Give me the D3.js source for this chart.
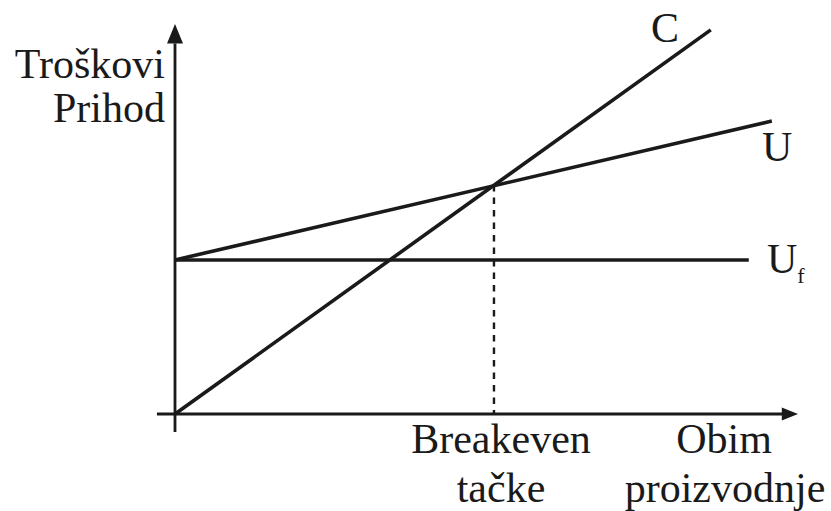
<!DOCTYPE html>
<html>
<head>
<meta charset="utf-8">
<script src="https://cdn.jsdelivr.net/npm/d3@7"></script>
</head>
<body style="margin:0; background:#fff">
<div id="chart"></div>
<script>
// data (in chart units, volume 0..100, money 0..100)
const costX = [0, 86.0];          // C - ukupni troskovi
const costY = [0, 98.5];
const revX = [0, 95.8];           // U - prihod
const revY = [39.5, 75.1];
const fixX = [0, 92.1];           // Uf - fiksni
const fixY = [39.5, 39.5];
const breakeven = [51.2, 58.7];
const yLabel = ['Troškovi', 'Prihod'];
const xLabel = ['Obim', 'proizvodnje'];
const beLabel = ['Breakeven', 'tačke'];

var width = 831, height = 511;
const ink = '#1a1a1a';

var svg = d3.select('#chart')
  .append('svg')
    .attr('width', width)
    .attr('height', height);

// scales
let x = d3.scaleLinear()
  .domain([0, 100])
  .range([175, 798]);

let y = d3.scaleLinear()
  .domain([0, 100])
  .range([414, 24]);

var lineGenerator = d3.line();

// axes with arrows
svg.append('path')
  .attr('d', lineGenerator([[x(0), y(-4.6)], [x(0), y(95)]]))
  .attr('stroke', ink)
  .attr('stroke-width', 2.8);
svg.append('path')
  .attr('d', lineGenerator([[x(0) - 8, y(95)], [x(0), y(100)], [x(0) + 8, y(95)]]) + 'Z')
  .attr('fill', ink);

svg.append('path')
  .attr('d', lineGenerator([[x(-2.9), y(0)], [x(97.5), y(0)]]))
  .attr('stroke', ink)
  .attr('stroke-width', 2.8);
svg.append('path')
  .attr('d', lineGenerator([[x(97.4), y(0) - 6.5], [x(100), y(0)], [x(97.4), y(0) + 6.5]]) + 'Z')
  .attr('fill', ink);

// breakeven dashed line
svg.append('path')
  .attr('d', lineGenerator([[x(breakeven[0]), y(breakeven[1])], [x(breakeven[0]), y(0)]]))
  .attr('stroke', ink)
  .attr('stroke-width', 2.4)
  .attr('stroke-dasharray', '6.5,6');

// the three lines
const series = [
  {xs: costX, ys: costY},
  {xs: revX, ys: revY},
  {xs: fixX, ys: fixY}
];
svg.append('g')
  .selectAll('path')
  .data(series)
  .enter()
  .append('path')
  .attr('d', function(d) { return lineGenerator(d.xs.map(function(v, i) { return [x(v), y(d.ys[i])]; })); })
  .attr('stroke', ink)
  .attr('stroke-width', 3.6)
  .attr('fill', 'none');

// labels
const fs = 42;
function label(tx, ty, anchor, str) {
  return svg.append('text')
    .attr('x', tx).attr('y', ty)
    .attr('text-anchor', anchor)
    .attr('fill', ink)
    .style('font-family', '"Liberation Serif", "Times New Roman", serif')
    .style('font-size', fs + 'px')
    .text(str);
}
label(165, 78, 'end', yLabel[0]);
label(165, 122, 'end', yLabel[1]);
label(665, 42, 'middle', 'C');
label(762, 161, 'start', 'U');
const uf = label(767, 273, 'start', 'U');
uf.append('tspan')
  .attr('dy', 10)
  .style('font-size', '22px')
  .text('f');

label(501, 453, 'middle', beLabel[0]);
label(501, 502, 'middle', beLabel[1]);
label(724, 453, 'middle', xLabel[0]);
label(725, 502, 'middle', xLabel[1]);
</script>
</body>
</html>
